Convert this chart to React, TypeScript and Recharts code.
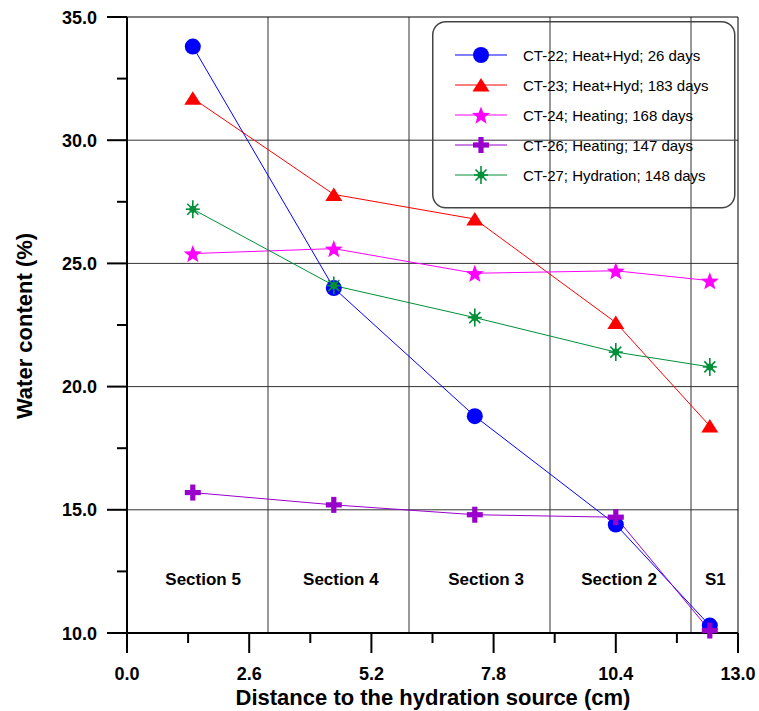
import React from 'react';
import {
  ComposedChart,
  Line,
  Scatter,
  XAxis,
  YAxis,
  ReferenceLine,
  Legend,
  Label,
} from 'recharts';

// ---- data ----
const distances = [1.4, 4.4, 7.4, 10.4, 12.4];
const ct22 = [33.8, 24.0, 18.8, 14.4, 10.3];
const ct23 = [31.7, 27.8, 26.8, 22.6, 18.4];
const ct24 = [25.4, 25.6, 24.6, 24.7, 24.3];
const ct26 = [15.7, 15.2, 14.8, 14.7, 10.1];
const ct27 = [27.2, 24.1, 22.8, 21.4, 20.8];

const seriesNames = [
  'CT-22; Heat+Hyd; 26 days',
  'CT-23; Heat+Hyd; 183 days',
  'CT-24; Heating; 168 days',
  'CT-26; Heating; 147 days',
  'CT-27; Hydration; 148 days',
];
const seriesColors = ['#0000FF', '#FF0000', '#FF00FF', '#9900CC', '#009038'];
const seriesShapes = ['circle', 'triangle', 'star', 'plus', 'asterisk'];

const xTicks = [0, 1.3, 2.6, 3.9, 5.2, 6.5, 7.8, 9.1, 10.4, 11.7, 13];
const yTicks = [10, 12.5, 15, 17.5, 20, 22.5, 25, 27.5, 30, 32.5, 35];
const sectionBounds = [3, 6, 9, 12];
const gridY = [15, 20, 25, 30];
const sectionLabels = ['Section 5', 'Section 4', 'Section 3', 'Section 2', 'S1'];
const sectionLabelX = [1.62, 4.55, 7.64, 10.47, 12.52];
const sectionLabelY = 12.2;

const toPoints = (vals: number[]) => distances.map((d, i) => ({ x: d, y: vals[i] }));
const seriesData = [ct22, ct23, ct24, ct26, ct27].map(toPoints);
const sectionData = sectionLabels.map((label, i) => ({ x: sectionLabelX[i], y: sectionLabelY, label }));

const FONT = '"Liberation Sans", Arial, Helvetica, sans-serif';

function Marker({ shape, color, cx, cy }: { shape: string; color: string; cx: number; cy: number }) {
  if (cx == null || cy == null) return null;
  switch (shape) {
    case 'circle':
      return <circle cx={cx} cy={cy} r={8} fill={color} />;
    case 'triangle':
      return (
        <polygon
          points={`${cx},${cy - 7} ${cx - 8.5},${cy + 6.5} ${cx + 8.5},${cy + 6.5}`}
          fill={color}
        />
      );
    case 'star': {
      const pts: string[] = [];
      for (let k = 0; k < 10; k++) {
        const r = k % 2 === 0 ? 9.5 : 4;
        const a = -Math.PI / 2 + (k * Math.PI) / 5;
        pts.push(`${cx + r * Math.cos(a)},${cy + r * Math.sin(a) + 1}`);
      }
      return <polygon points={pts.join(' ')} fill={color} />;
    }
    case 'plus':
      return (
        <g fill={color}>
          <rect x={cx - 8} y={cy - 2.6} width={16} height={5.2} />
          <rect x={cx - 2.6} y={cy - 8} width={5.2} height={16} />
        </g>
      );
    case 'asterisk':
      return (
        <g stroke={color} strokeWidth={1.6}>
          <line x1={cx} y1={cy - 9} x2={cx} y2={cy + 9} />
          <line x1={cx - 7} y1={cy} x2={cx + 7} y2={cy} />
          <line x1={cx - 5.5} y1={cy - 5.5} x2={cx + 5.5} y2={cy + 5.5} />
          <line x1={cx - 5.5} y1={cy + 5.5} x2={cx + 5.5} y2={cy - 5.5} />
          <circle cx={cx} cy={cy} r={3.5} fill={color} stroke="none" />
        </g>
      );
    default:
      return null;
  }
}

function XTick(props: any) {
  const { x, y, payload } = props;
  const v = payload.value as number;
  const major = Math.abs(v / 2.6 - Math.round(v / 2.6)) < 1e-6;
  return (
    <g>
      <line x1={x} x2={x} y1={y} y2={y + (major ? 20 : 10)} stroke="#000" strokeWidth={2} />
      {major && (
        <text x={x} y={y + 47} textAnchor="middle" fontFamily={FONT} fontWeight="bold" fontSize={18} fill="#000">
          {v.toFixed(1)}
        </text>
      )}
    </g>
  );
}

function YTick(props: any) {
  const { x, y, payload } = props;
  const v = payload.value as number;
  const major = Math.abs(v / 5 - Math.round(v / 5)) < 1e-6;
  return (
    <g>
      <line x1={x - (major ? 20 : 10)} x2={x} y1={y} y2={y} stroke="#000" strokeWidth={2} />
      {major && (
        <text x={x - 30} y={y + 6.5} textAnchor="end" fontFamily={FONT} fontWeight="bold" fontSize={18} fill="#000">
          {v.toFixed(1)}
        </text>
      )}
    </g>
  );
}

function LegendBox() {
  return (
    <svg width={304} height={188} style={{ display: 'block', overflow: 'visible' }}>
      <rect x={0.75} y={0.75} width={302} height={186} rx={13} ry={13} fill="none" stroke="#444" strokeWidth={1.5} />
      {seriesNames.map((name, i) => {
        const cy = 34 + i * 30;
        return (
          <g key={name}>
            <line x1={23} x2={75} y1={cy} y2={cy} stroke={seriesColors[i]} strokeWidth={1} />
            <Marker shape={seriesShapes[i]} color={seriesColors[i]} cx={49} cy={cy} />
            <text x={91} y={cy + 5.5} fontFamily={FONT} fontSize={15} fill="#000">
              {name}
            </text>
          </g>
        );
      })}
    </svg>
  );
}

export default function App() {
  return (
    <div style={{ position: 'absolute', left: 0, top: 0, width: 759, height: 711, background: '#fff' }}>
      <ComposedChart
        width={759}
        height={711}
        margin={{ top: 17, right: 21, bottom: 0, left: 0 }}
        style={{ fontFamily: FONT }}
      >
        <XAxis
          dataKey="x"
          type="number"
          domain={[0, 13]}
          ticks={xTicks}
          interval={0}
          height={78}
          tickSize={0}
          tickMargin={0}
          tickLine={false}
          tick={<XTick />}
          axisLine={{ stroke: '#000', strokeWidth: 2 }}
        >
          <Label
            content={(p: any) => {
              const vb = p.viewBox;
              return (
                <text
                  x={vb.x + vb.width / 2 + 0.5}
                  y={vb.y + 72}
                  textAnchor="middle"
                  fontFamily={FONT}
                  fontWeight="bold"
                  fontSize={22}
                  fill="#000"
                >
                  Distance to the hydration source (cm)
                </text>
              );
            }}
          />
        </XAxis>
        <YAxis
          dataKey="y"
          type="number"
          domain={[10, 35]}
          ticks={yTicks}
          interval={0}
          width={127}
          tickSize={0}
          tickMargin={0}
          tickLine={false}
          tick={<YTick />}
          axisLine={{ stroke: '#000', strokeWidth: 2 }}
        >
          <Label
            content={(p: any) => {
              const vb = p.viewBox;
              const cx = 32;
              const cy = vb.y + vb.height / 2 + 1;
              return (
                <text
                  x={cx}
                  y={cy}
                  transform={`rotate(-90 ${cx} ${cy})`}
                  textAnchor="middle"
                  fontFamily={FONT}
                  fontWeight="bold"
                  fontSize={22}
                  fill="#000"
                >
                  Water content (%)
                </text>
              );
            }}
          />
        </YAxis>

        {gridY.map((v) => (
          <ReferenceLine key={`gy${v}`} y={v} stroke="#333" strokeWidth={1} />
        ))}
        {sectionBounds.map((v) => (
          <ReferenceLine key={`gx${v}`} x={v} stroke="#333" strokeWidth={1} />
        ))}
        <ReferenceLine y={35} stroke="#000" strokeWidth={1} />
        <ReferenceLine x={13} stroke="#000" strokeWidth={1} />

        <Legend
          layout="vertical"
          align="center"
          verticalAlign="middle"
          wrapperStyle={{ position: 'absolute', left: 432, top: 21, width: 304, height: 188 }}
          content={() => <LegendBox />}
        />

        <Scatter
          data={sectionData}
          dataKey="y"
          isAnimationActive={false}
          legendType="none"
          shape={(p: any) => (
            <text
              x={p.cx}
              y={p.cy + 6}
              textAnchor="middle"
              fontFamily={FONT}
              fontWeight="bold"
              fontSize={17}
              fill="#000"
            >
              {p.payload.label}
            </text>
          )}
        />

        {seriesData.map((data, i) => (
          <Line
            key={seriesNames[i]}
            data={data}
            dataKey="y"
            name={seriesNames[i]}
            stroke={seriesColors[i]}
            strokeWidth={1}
            isAnimationActive={false}
            dot={(p: any) => (
              <Marker key={`${i}-${p.index}`} shape={seriesShapes[i]} color={seriesColors[i]} cx={p.cx} cy={p.cy} />
            )}
            activeDot={false}
          />
        ))}
      </ComposedChart>
    </div>
  );
}
